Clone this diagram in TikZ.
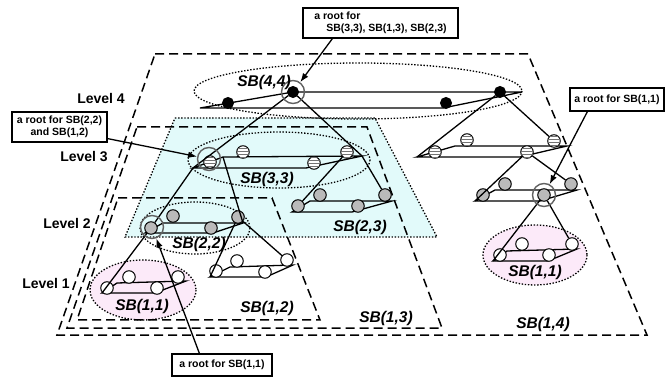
\documentclass[tikz,border=0pt]{standalone}
\usepackage{fontspec}
\setmainfont{Liberation Sans}
\usetikzlibrary{arrows.meta,patterns}
\definecolor{cyanfill}{RGB}{226,250,250}
\definecolor{pinkfill}{RGB}{252,234,249}
\tikzset{
  key/.style={circle,draw,line width=1pt,inner sep=0pt,minimum size=12.5pt},
  blackkey/.style={key,fill=black,minimum size=11pt},
  stripekey/.style={key,fill=white,postaction={pattern=horizontal lines,pattern color=black!55}},
  graykey/.style={key,fill=black!27},
  whitekey/.style={key,fill=white},
  rootring/.style={circle,draw=black!62,line width=1.4pt,inner sep=0pt,minimum size=23pt},
  rootbox/.style={draw,line width=1.2pt,fill=white,font=\fontsize{10.5}{12.5}\selectfont\bfseries,inner sep=3pt},
  levellabel/.style={font=\fontsize{14}{16}\selectfont\bfseries},
  sblabel/.style={font=\fontsize{15.5}{18}\selectfont\bfseries\itshape},
  sbregion/.style={dash pattern=on 9pt off 5pt,line width=1.5pt},
  sbgroup/.style={dash pattern=on 1.4pt off 1.7pt,line width=1.3pt},
  link/.style={line width=1.3pt},
  pointer/.style={line width=1.3pt,-{Latex[length=9pt,width=6.5pt]}}
}
\newcommand{\treenode}[5]{%
  \coordinate (#1L) at (#2); \coordinate (#1Q) at (#3);
  \coordinate (#1R) at (#4); \coordinate (#1P) at (#5);
  \draw[link] (#1L) -- (#1P) -- (#1R) -- (#1Q) -- cycle;}
\begin{document}
\begin{tikzpicture}[x=1pt,y=-1pt]
\useasboundingbox (0,0) rectangle (665,377);
\draw[sbgroup,fill=cyanfill] (175,118) -- (375,118) -- (437,237) -- (125,237) -- cycle;
\draw[sbgroup,fill=pinkfill] (143,290) ellipse [x radius=53,y radius=30];
\draw[sbgroup,fill=pinkfill] (535,255) ellipse [x radius=52,y radius=30];

\draw[sbregion] (155,54) -- (528,54) -- (647,335) -- (57,335) -- cycle;
\draw[sbregion] (137,127) -- (367,127) -- (442,328) -- (67,328) -- cycle;
\draw[sbregion] (118,198) -- (272,198) -- (320,320) -- (77,320) -- cycle;

\draw[sbgroup] (358,91) ellipse [x radius=164,y radius=28];
\draw[sbgroup] (279,160) ellipse [x radius=91,y radius=28];
\draw[sbgroup] (195,228) ellipse [x radius=55,y radius=26];

\treenode{t4}{200,108}{293,92}{522,92}{443,108}
\treenode{t3}{193,168}{223,157}{362,156}{306,168}
\treenode{u3}{417,157}{455,146}{567,146}{520,157}
\treenode{t2}{145,233}{163,223}{243,223}{213,233}
\treenode{s2}{292,212}{310,201}{392,201}{352,212}
\treenode{u2}{475,201}{495,190}{577,190}{540,201}
\treenode{t1}{102,293}{117,283}{186,281}{155,293}
\treenode{s1}{210,277}{230,267}{293,265}{266,277}
\treenode{u1}{493,261}{507,251}{577,249}{548,261}

\foreach \k/\p in {a/{228,103},b/{293,92},c/{446,103},d/{500,92}}
  \node[blackkey] (t4\k) at (\p) {};
\foreach \k/\p in {a/{210,162},b/{243,152},c/{314,163},d/{347,152}}
  \node[stripekey] (t3\k) at (\p) {};
\foreach \k/\p in {a/{435,152},b/{467,140},c/{527,152},d/{554,141}}
  \node[stripekey] (u3\k) at (\p) {};
\foreach \k/\p in {a/{151,228},b/{173,216},c/{211,228},d/{238,217}}
  \node[graykey] (t2\k) at (\p) {};
\foreach \k/\p in {a/{298,206},b/{320,195},c/{358,206},d/{385,195}}
  \node[graykey] (s2\k) at (\p) {};
\foreach \k/\p in {a/{483,195},b/{505,184},c/{544,195},d/{571,184}}
  \node[graykey] (u2\k) at (\p) {};
\foreach \k/\p in {a/{107,288},b/{129,277},c/{157,288},d/{178,277}}
  \node[whitekey] (t1\k) at (\p) {};
\foreach \k/\p in {a/{216,271},b/{237,261},c/{265,272},d/{287,260}}
  \node[whitekey] (s1\k) at (\p) {};
\foreach \k/\p in {a/{500,255},b/{522,244},c/{549,255},d/{572,244}}
  \node[whitekey] (u1\k) at (\p) {};

\draw[link] (t4b) -- (t3L);
\draw[link] (t4b) -- (t3R);
\draw[link] (t4d) -- (u3L);
\draw[link] (t4d) -- (u3d);
\draw[link] (t3L) -- (t2a);
\draw[link] (t3Q) -- (t2R);
\draw[link] (t3d) -- (s2a);
\draw[link] (t3R) -- (s2d);
\draw[link] (u3c) -- (u2L);
\draw[link] (u3c) -- (u2d);
\draw[link] (t2d) -- (s1L);
\draw[link] (t2d) -- (s1d);
\draw[link] (t2a) -- (t1L);
\draw[link] (u2c) -- (u1L);
\draw[link] (u2c) -- (u1d);

\node[rootring] (ring44) at (293,92) {};
\node[rootring] (ring33) at (209,159) {};
\node[rootring] (ring22) at (152,227) {};
\node[rootring] (ringR) at (544,195) {};

\node[levellabel] (lv4) at (101,98) {Level 4};
\node[levellabel] (lv3) at (84,157) {Level 3};
\node[levellabel] (lv2) at (67,223) {Level 2};
\node[levellabel] (lv1) at (46,283) {Level 1};

\node[sblabel] (sb44) at (264,82) {SB(4,4)};
\node[sblabel] (sb33) at (267,179) {SB(3,3)};
\node[sblabel] (sb23) at (360,227) {SB(2,3)};
\node[sblabel] (sb22) at (199,244) {SB(2,2)};
\node[sblabel] (sb11) at (142,306) {SB(1,1)};
\node[sblabel] (sb12) at (267,308) {SB(1,2)};
\node[sblabel] (sb13) at (386,318) {SB(1,3)};
\node[sblabel] (sb14) at (543,324) {SB(1,4)};
\node[sblabel] (sb11r) at (535,272) {SB(1,1)};

\node[rootbox,minimum width=155pt,minimum height=30pt,align=left] (box44) at (380.5,23)
  {a root for\\\hspace*{12pt}SB(3,3), SB(1,3), SB(2,3)};
\node[rootbox,minimum width=95pt,minimum height=30pt,align=center] (box22) at (59.5,127)
  {a root for SB(2,2)\\and SB(1,2)};
\node[rootbox,minimum width=94pt,minimum height=23pt] (boxR) at (617,99.5) {a root for SB(1,1)};
\node[rootbox,minimum width=100pt,minimum height=22pt] (boxB) at (222,365) {a root for SB(1,1)};

\draw[pointer] ([xshift=30pt]box44.south west) -- (ring44);
\draw[pointer] ([yshift=4pt]box22.south east) -- (ring33);
\draw[pointer] ([xshift=28pt]boxB.north west) -- (ring22);
\draw[pointer] ([xshift=18pt]boxR.south west) -- (ringR);
\end{tikzpicture}
\end{document}
